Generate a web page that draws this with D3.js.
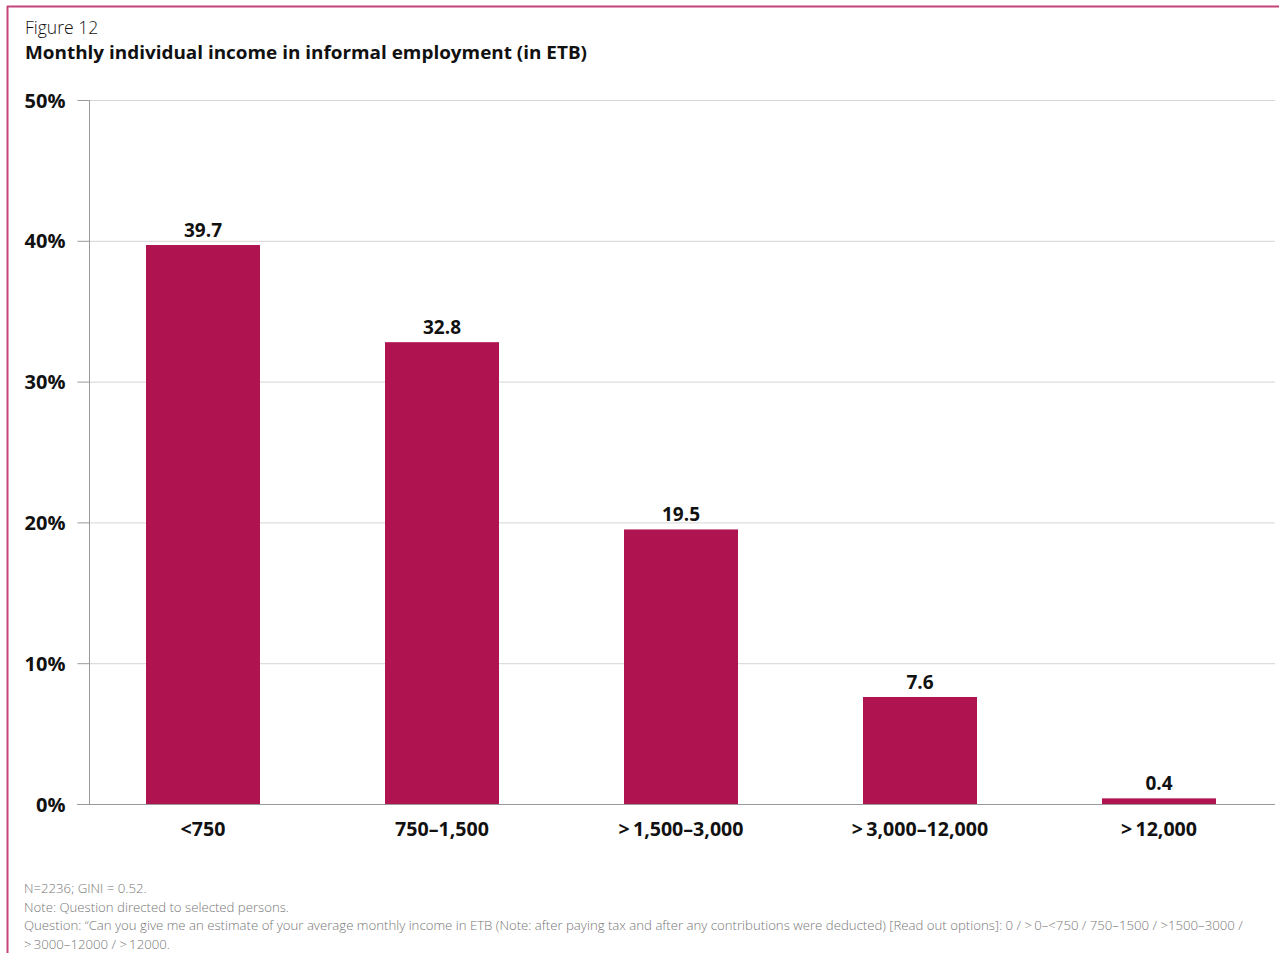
<!DOCTYPE html>
<html>
<head>
<meta charset="utf-8">
<script src="https://cdn.jsdelivr.net/npm/d3@7"></script>
<style>
  html, body { margin: 0; padding: 0; background: #fff; }
  svg { display: block; }
  text { font-family: "Open Sans", "Noto Sans", sans-serif; }
</style>
</head>
<body>
<svg id="chart" width="1279" height="953"></svg>
<script>
// Income bands (ETB) and share of respondents (%)
const categories = ["<750", "750\u20131,500", ">\u20091,500\u20133,000", ">\u20093,000\u201312,000", ">\u200912,000"];
const shares = [39.7, 32.8, 19.5, 7.6, 0.4];
const yTicks = [0, 10, 20, 30, 40, 50];

const figureLabel = "Figure 12";
const title = "Monthly individual income in informal employment (in ETB)";
const notes = [
  "N=2236; GINI = 0.52.",
  "Note: Question directed to selected persons.",
  "Question: \u201cCan you give me an estimate of your average monthly income in ETB (Note: after paying tax and after any contributions were deducted) [Read out options]: 0 / >\u20090\u2013<750 / 750\u20131500 / >1500\u20133000 /",
  ">\u20093000\u201312000 / >\u200912000."
];

const svg = d3.select("#chart");
const barColor = "#b01450";
const frameColor = "#c4457a";

// Frame: top and left rule
svg.append("line").attr("x1", 7).attr("x2", 1279).attr("y1", 6.5).attr("y2", 6.5)
  .attr("stroke", frameColor).attr("stroke-width", 2);
svg.append("line").attr("x1", 7.5).attr("x2", 7.5).attr("y1", 6).attr("y2", 953)
  .attr("stroke", frameColor).attr("stroke-width", 2);

svg.append("text").attr("x", 25).attr("y", 34).attr("font-size", 17.5).attr("font-weight", 300)
  .attr("fill", "#111").text(figureLabel);
svg.append("text").attr("x", 25).attr("y", 59).attr("font-size", 18.5).attr("font-weight", 700)
  .attr("fill", "#111").attr("textLength", 562).attr("lengthAdjust", "spacingAndGlyphs").text(title);

const y = d3.scaleLinear().domain([0, 50]).range([804, 100]);
const x = d3.scaleBand().domain(categories).range([83.5, 1278.5]).paddingInner(0.523).paddingOuter(0.2615);

// Gridlines
svg.append("g").selectAll("line").data(yTicks.slice(1)).join("line")
  .attr("x1", 89).attr("x2", 1275)
  .attr("y1", d => y(d) + 0.5).attr("y2", d => y(d) + 0.5)
  .attr("stroke", "#d6d6d6").attr("stroke-width", 1);

// Y axis
const yAxis = svg.append("g").attr("transform", "translate(89.5,0)")
  .call(d3.axisLeft(y).tickValues(yTicks).tickFormat(d => d + "%").tickSize(12).tickPadding(12));
yAxis.select(".domain").attr("stroke", "#999").attr("d", `M0,${y(50)}V${y(0)}`);
yAxis.selectAll(".tick line").attr("stroke", "#999");
yAxis.selectAll(".tick text").attr("font-size", 20).attr("font-weight", 700).attr("fill", "#111")
  .attr("font-family", "\"Open Sans\", sans-serif").attr("dy", "0.35em");

// Bars
svg.append("g").selectAll("rect").data(shares).join("rect")
  .attr("x", (d, i) => x(categories[i]))
  .attr("width", x.bandwidth())
  .attr("y", d => y(d))
  .attr("height", d => y(0) - y(d))
  .attr("fill", barColor);

// Baseline
svg.append("line").attr("x1", 77).attr("x2", 1275).attr("y1", 804.5).attr("y2", 804.5)
  .attr("stroke", "#999").attr("stroke-width", 1.2);

// Value labels
svg.append("g").selectAll("text").data(shares).join("text")
  .attr("x", (d, i) => x(categories[i]) + x.bandwidth() / 2)
  .attr("y", d => y(d) - 8)
  .attr("text-anchor", "middle").attr("font-size", 19).attr("font-weight", 700).attr("fill", "#111")
  .text(d => d.toFixed(1));

// Category labels
svg.append("g").selectAll("text").data(categories).join("text")
  .attr("x", d => x(d) + x.bandwidth() / 2)
  .attr("y", 836)
  .attr("text-anchor", "middle").attr("font-size", 19.6).attr("font-weight", 700).attr("fill", "#111")
  .text(d => d);

// Notes
svg.append("g").selectAll("text").data(notes).join("text")
  .attr("x", 24).attr("y", (d, i) => 893 + i * 18.7)
  .attr("font-size", 13.2).attr("font-weight", 300).attr("fill", "#777")
  .text(d => d);
</script>
</body>
</html>
